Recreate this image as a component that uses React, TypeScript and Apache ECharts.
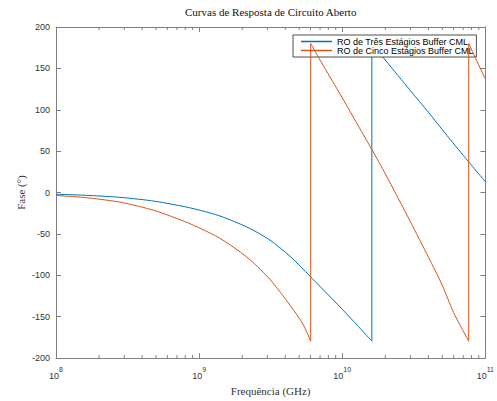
import React, { useEffect, useRef } from "react";
import * as echarts from "echarts";

const chartTitle = "Curvas de Resposta de Circuito Aberto";
const xName = "Frequência (GHz)";
const yName = "Fase (°)";
const seriesNames = ["RO de Três Estágios Buffer CML", "RO de Cinco Estágios Buffer CML"];
const seriesColors = ["#0072BD", "#D95319"];

// Three-stage RO (blue); a repeated frequency marks the phase wrap (-180 -> 180)
const blueFreq = [1e8, 1.7e8, 2.9e8, 4.9e8, 8.4e8, 1.3e9, 1.65e9, 2.27e9, 3.13e9, 4.32e9, 5.95e9, 7e9, 1e10, 1.3e10, 1.61e10, 1.61e10, 2e10, 3e10, 4e10, 5e10, 7e10, 1e11];
const bluePhase = [-2, -3.5, -6, -10.5, -18, -26.5, -33, -43.5, -57.5, -77, -101, -113.5, -141, -162, -179.5, 180, 160, 123, 97, 76, 45, 13];

// Five-stage RO (orange)
const orangeFreq = [1e8, 1.7e8, 2.9e8, 4.9e8, 8.4e8, 1.3e9, 1.65e9, 2.27e9, 3.13e9, 4.32e9, 5.35e9, 6.02e9, 6.02e9, 7e9, 1e10, 1.3e10, 1.61e10, 2e10, 3e10, 4e10, 5e10, 6e10, 7.65e10, 7.65e10, 1e11];
const orangePhase = [-3.5, -6.5, -12.1, -21.8, -36.8, -52.2, -63.3, -81.1, -105.1, -136.1, -159.9, -179.5, 180, 160, 114.5, 80, 52, 22.5, -35.5, -78, -112, -145, -179.5, 180, 137];

const xMin = 1e8;
const xMax = 1e11;
const yMin = -200;
const yMax = 200;
const yInterval = 50;
const minorMultipliers = [2, 3, 4, 5, 6, 7, 8, 9];
const decades = [1e8, 1e9, 1e10];

const frameColor = "#808080";
const textColor = "#333333";

function buildSeries(name: string, color: string, freqs: number[], phases: number[], z: number) {
  const out: any[] = [];
  let seg: number[][] = [[freqs[0], phases[0]]];
  const pushCurve = () => {
    if (seg.length > 1) {
      out.push({
        name,
        type: "line",
        data: seg,
        symbol: "none",
        smooth: 0.25,
        color,
        lineStyle: { width: 1, color },
        z,
      });
    }
  };
  for (let i = 1; i < freqs.length; i++) {
    if (freqs[i] === freqs[i - 1]) {
      pushCurve();
      out.push({
        name,
        type: "line",
        data: [
          [freqs[i - 1], phases[i - 1]],
          [freqs[i], phases[i]],
        ],
        symbol: "none",
        color,
        lineStyle: { width: 1, color },
        z,
      });
      seg = [[freqs[i], phases[i]]];
    } else {
      seg.push([freqs[i], phases[i]]);
    }
  }
  pushCurve();
  return out;
}

export default function App() {
  const ref = useRef<HTMLDivElement>(null);
  useEffect(() => {
    const chart = echarts.init(ref.current!, null, { renderer: "svg" });
    const minorTicks: number[][] = [];
    decades.forEach((d) => minorMultipliers.forEach((m) => minorTicks.push([d * m, 0])));

    const tickLabel = {
      color: textColor,
      fontSize: 9,
      fontFamily: "Liberation Sans",
    };

    chart.setOption({
      animation: false,
      backgroundColor: "#ffffff",
      grid: { left: 56, right: 11, top: 27, bottom: 34, containLabel: false },
      legend: {
        data: seriesNames,
        orient: "vertical",
        left: 293,
        top: 35,
        itemGap: 0,
        itemWidth: 31,
        itemHeight: 1.5,
        icon: "rect",
        padding: [2, 3, 2, 8],
        borderColor: "#222",
        borderWidth: 0.8,
        backgroundColor: "#ffffff",
        textStyle: { fontSize: 9, fontFamily: "Liberation Sans", color: "#000", lineHeight: 8.5 },
      },
      xAxis: [
        {
          type: "log",
          logBase: 10,
          min: xMin,
          max: xMax,
          position: "bottom",
          splitLine: { show: false },
          axisLine: { show: true, onZero: false, lineStyle: { color: frameColor } },
          axisTick: { show: true, inside: true, length: 5, lineStyle: { color: frameColor } },
          axisLabel: {
            ...tickLabel,
            margin: 8,
            formatter: (v: number) => `{b|10}{s|${Math.round(Math.log10(v))}}`,
            rich: {
              b: { fontSize: 9, fontFamily: "Liberation Sans", color: textColor, lineHeight: 14, verticalAlign: "bottom" },
              s: { fontSize: 7, fontFamily: "Liberation Sans", color: textColor, lineHeight: 14, verticalAlign: "top" },
            },
          },
          name: xName,
          nameLocation: "middle",
          nameGap: 20,
          nameTextStyle: { fontFamily: "Liberation Serif", fontSize: 11, color: textColor },
        },
        {
          type: "log",
          logBase: 10,
          min: xMin,
          max: xMax,
          position: "top",
          splitLine: { show: false },
          axisLine: { show: true, onZero: false, lineStyle: { color: frameColor } },
          axisTick: { show: true, inside: true, length: 5, lineStyle: { color: frameColor } },
          axisLabel: { show: false },
          name: chartTitle,
          nameLocation: "middle",
          nameGap: 10,
          nameTextStyle: { fontFamily: "Liberation Serif", fontSize: 11, color: "#111" },
        },
      ],
      yAxis: [
        {
          type: "value",
          min: yMin,
          max: yMax,
          interval: yInterval,
          position: "left",
          splitLine: { show: false },
          axisLine: { show: true, onZero: false, lineStyle: { color: frameColor } },
          axisTick: { show: true, inside: true, length: 5, lineStyle: { color: frameColor } },
          axisLabel: { ...tickLabel, margin: 6 },
          name: yName,
          nameLocation: "middle",
          nameGap: 30,
          nameMoveOverlap: false,
          nameRotate: 90,
          nameTextStyle: { fontFamily: "Liberation Serif", fontSize: 11, color: textColor },
        },
        {
          type: "value",
          min: yMin,
          max: yMax,
          interval: yInterval,
          position: "right",
          splitLine: { show: false },
          axisLine: { show: true, onZero: false, lineStyle: { color: frameColor } },
          axisTick: { show: true, inside: true, length: 5, lineStyle: { color: frameColor } },
          axisLabel: { show: false },
        },
      ],
      series: [
        ...buildSeries(seriesNames[0], seriesColors[0], blueFreq, bluePhase, 3),
        ...buildSeries(seriesNames[1], seriesColors[1], orangeFreq, orangePhase, 4),
        {
          type: "custom",
          silent: true,
          data: minorTicks,
          encode: { x: 0, y: 1 },
          renderItem: (_params: any, api: any) => {
            const v = api.value(0);
            const b = api.coord([v, yMin]);
            const t = api.coord([v, yMax]);
            return {
              type: "group",
              children: [
                { type: "line", shape: { x1: b[0], y1: b[1], x2: b[0], y2: b[1] - 3 }, style: { stroke: frameColor, lineWidth: 1 } },
                { type: "line", shape: { x1: t[0], y1: t[1], x2: t[0], y2: t[1] + 3 }, style: { stroke: frameColor, lineWidth: 1 } },
              ],
            };
          },
          z: 2,
        },
      ],
    });
    return () => chart.dispose();
  }, []);
  return <div ref={ref} style={{ position: "fixed", left: 0, top: 0, width: 497, height: 401 }} />;
}
